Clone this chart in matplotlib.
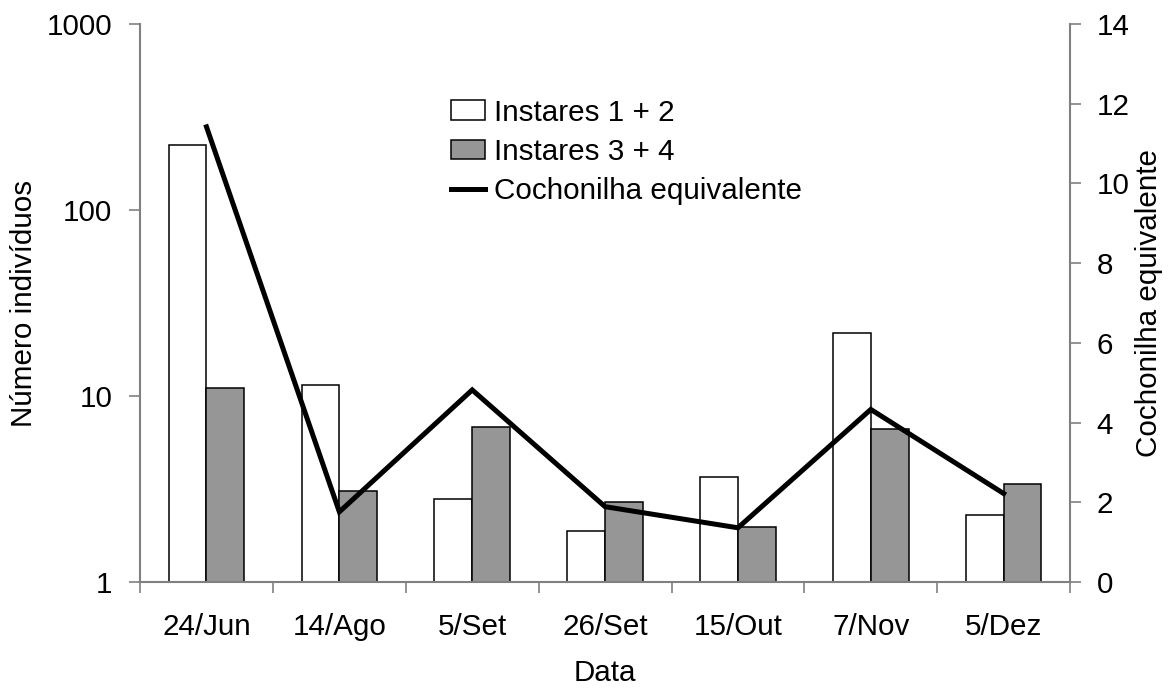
import matplotlib
matplotlib.use('Agg')
import matplotlib.pyplot as plt
import numpy as np

plt.rcParams['font.family'] = ['Liberation Sans', 'DejaVu Sans']

# data
datas = ['24/Jun', '14/Ago', '5/Set', '26/Set', '15/Out', '7/Nov', '5/Dez']
instares_12 = [225, 11.4, 2.78, 1.89, 3.68, 21.7, 2.29]
instares_34 = [11.1, 3.08, 6.84, 2.68, 1.98, 6.65, 3.38]
cochonilha_eq = [11.42, 1.76, 4.82, 1.89, 1.36, 4.33, 2.22]

fs = 21.3
spine_col = '#808080'

fig = plt.figure(figsize=(11.74, 6.90), dpi=100)
ax = fig.add_axes([0.1193, 0.1565, 0.7922, 0.8087])

x = np.arange(len(datas))
w = 0.284
b1 = ax.bar(x - w / 2, instares_12, width=w, bottom=0, color='white',
            edgecolor='black', linewidth=1.1, label='Instares 1 + 2')
b2 = ax.bar(x + w / 2, instares_34, width=w, bottom=0, color='#969696',
            edgecolor='black', linewidth=1.1, label='Instares 3 + 4')

ax.set_yscale('log')
ax.set_ylim(1, 1000)
ax.set_xlim(-0.5, len(datas) - 0.5)
ax.set_yticks([1, 10, 100, 1000])
ax.set_yticklabels(['1', '10', '100', '1000'])
ax.yaxis.set_minor_locator(matplotlib.ticker.NullLocator())

# category boundary ticks, labels in the middle
ax.set_xticks(np.arange(-0.5, len(datas), 1.0))
ax.set_xticklabels([])
ax.set_xticks(x, minor=True)
ax.set_xticklabels(datas, minor=True)
ax.tick_params(axis='x', which='major', length=8, width=1.2, color=spine_col)
ax.tick_params(axis='x', which='minor', length=0, pad=22, labelsize=fs)
ax.tick_params(axis='y', which='major', length=8, width=1.2, color=spine_col,
               pad=12, labelsize=fs)

for s in ['top', 'right']:
    ax.spines[s].set_visible(False)
for s in ['left', 'bottom']:
    ax.spines[s].set_color(spine_col)
    ax.spines[s].set_linewidth(1.5)

ax.set_xlabel('Data', fontsize=fs, labelpad=13)
ax.set_ylabel('Número indivíduos', fontsize=fs, labelpad=6)

ax2 = ax.twinx()
ln, = ax2.plot(x, cochonilha_eq, color='black', linewidth=3.6,
               solid_joinstyle='miter', label='Cochonilha equivalente')
ax2.set_ylim(0, 14)
ax2.set_yticks(np.arange(0, 15, 2))
ax2.tick_params(axis='y', length=8, width=1.2, color=spine_col, pad=11,
                labelsize=fs)
for s in ['top', 'left', 'bottom']:
    ax2.spines[s].set_visible(False)
ax2.spines['right'].set_color(spine_col)
ax2.spines['right'].set_linewidth(1.5)
ax2.set_ylabel('Cochonilha equivalente', fontsize=fs, labelpad=4)

fig.legend(handles=[b1, b2, ln], loc='upper left',
           bbox_to_anchor=(0.384, 0.857), frameon=False, fontsize=fs,
           handlelength=1.15, handleheight=0.65, handletextpad=0.3,
           labelspacing=0.38, borderpad=0, borderaxespad=0)

fig.savefig('out.png', dpi=100)
plt.close()
